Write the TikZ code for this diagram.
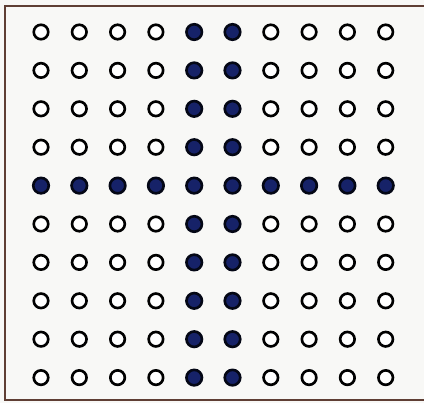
\documentclass[tikz,border=0pt]{standalone}
\usetikzlibrary{positioning}
\definecolor{dotblue}{RGB}{22,34,104}
\definecolor{framebrown}{RGB}{95,62,52}
\definecolor{paper}{RGB}{248,248,246}
\tikzset{
  odot/.style={circle,draw=black,line width=1.5pt,fill=white,minimum size=0.29cm,inner sep=0pt},
  fdot/.style={odot,draw=black!80!dotblue,fill=dotblue,minimum size=0.31cm},
  frameline/.style={draw=framebrown,line width=0.6pt}
}
\begin{document}
\begin{tikzpicture}[x=0.02cm,y=-0.02cm]
  \fill[paper] (0,0) rectangle (424,403);
  \useasboundingbox (0,0) rectangle (424,403);
  \draw[frameline] (430,6) -- (5,6) -- (5,400) -- (430,400);
  % row 4 and columns 4,5 are filled
  \foreach \r in {0,...,9}{
    \foreach \c in {0,...,9}{
      \def\dotstyle{odot}
      \ifnum\r=4 \def\dotstyle{fdot}\fi
      \ifnum\c=4 \def\dotstyle{fdot}\fi
      \ifnum\c=5 \def\dotstyle{fdot}\fi
      \node[\dotstyle] (d-\r-\c) at ({41+38.3*\c},{32+38.4*\r}) {};
    }
  }
\end{tikzpicture}
\end{document}
